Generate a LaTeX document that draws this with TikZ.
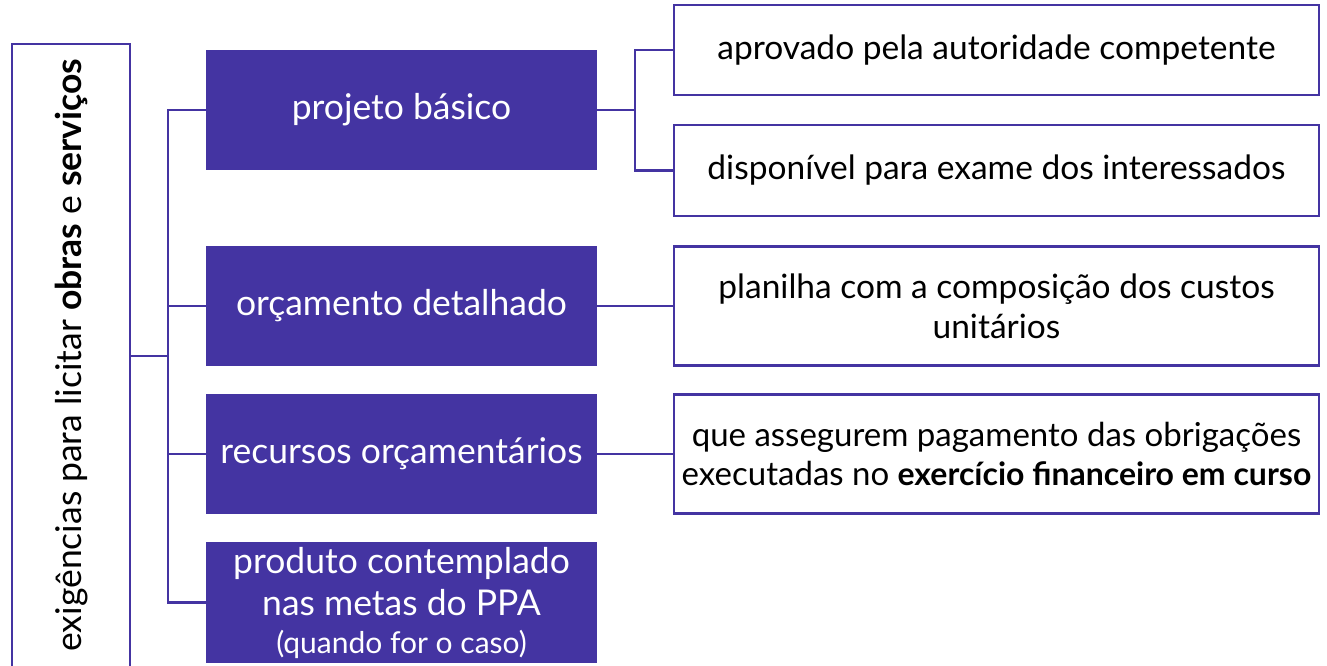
\documentclass[tikz,border=0pt]{standalone}
\usepackage{fontspec}
\setmainfont{Lato}
\definecolor{pur}{HTML}{4434A2}
\begin{document}
\begin{tikzpicture}[x=1pt,y=-1pt,
  every node/.style={inner sep=0pt, outer sep=0pt},
  line/.style={draw=pur, line width=2.8pt},
  pbox/.style={fill=pur, text=white, minimum width=391pt, minimum height=120pt, align=center, font=\fontsize{35.5}{42}\selectfont},
  wbox/.style={draw=pur, line width=2.8pt, fill=white, text=black, minimum width=645pt, align=center, font=\fontsize{33.5}{40}\selectfont}]
\useasboundingbox (0,0) rectangle (1327,665);
\clip (0,0) rectangle (1327,665);
% left box
\node[draw=pur, line width=2.8pt, minimum width=118pt, minimum height=656pt] (L) at (71,372) {};
\node[rotate=90, font=\fontsize{35.5}{40}\selectfont] (Lt) at (72,355) {exigências para licitar \textbf{obras} e \textbf{serviços}};
% purple boxes
\node[pbox] (pb) at (401.5,110) {projeto básico};
\node[pbox] (od) at (401.5,306) {orçamento detalhado};
\node[pbox] (ro) at (401.5,454) {recursos orçamentários};
\node[pbox, minimum height=121pt] (pp) at (401.5,602.5) {produto contemplado\\nas metas do PPA\\[-4pt]{\fontsize{30}{34}\selectfont (quando for o caso)}};
% white boxes
\node[wbox, minimum height=90pt] (ap) at (996.5,50) {aprovado pela autoridade competente};
\node[wbox, minimum height=91pt] (di) at (996.5,170.5) {disponível para exame dos interessados};
\node[wbox, minimum height=119pt] (pl) at (996.5,306) {planilha com a composição dos custos\\unitários};
\node[wbox, minimum height=119pt, font=\fontsize{33}{39}\selectfont] (qa) at (996.5,454) {que assegurem pagamento das obrigações\\executadas no {\fontsize{32}{39}\selectfont\textbf{exercício financeiro em curso}}};
% connectors
\coordinate (sp) at (168,356);
\coordinate (bp) at (635,110);
\draw[line] (L.east |- sp) -- (sp);
\draw[line] (pb.west) -- (pb.west -| sp) -- (pp.west -| sp) -- (pp.west);
\draw[line] (od.west) -- (od.west -| sp);
\draw[line] (ro.west) -- (ro.west -| sp);
\draw[line] (pb.east) -- (bp);
\draw[line] (ap.west) -- (ap.west -| bp) -- (di.west -| bp) -- (di.west);
\draw[line] (od.east) -- (pl.west);
\draw[line] (ro.east) -- (qa.west);
\end{tikzpicture}
\end{document}
